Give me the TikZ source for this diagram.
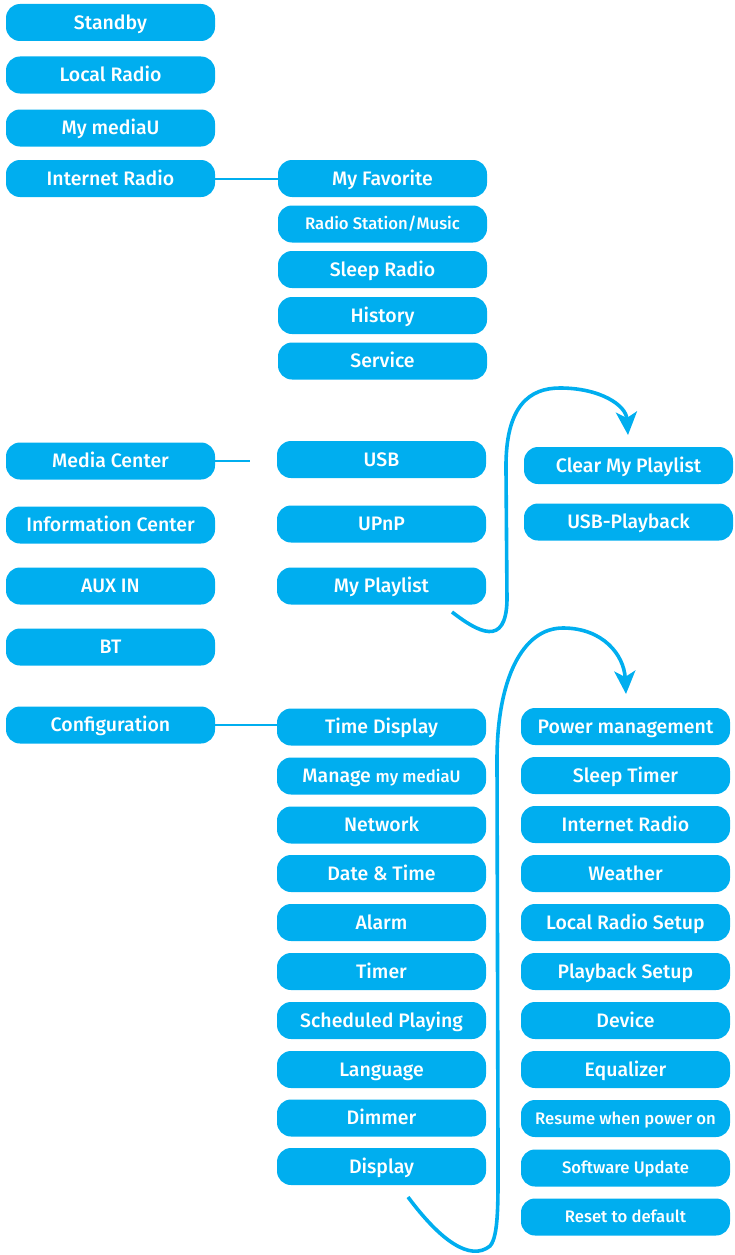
\documentclass[tikz,border=0pt]{standalone}
\usepackage[rgb]{xcolor}
\usepackage{fontspec}
\setmainfont{Fira Sans}[UprightFont=* Medium]
\usepackage{tikz}
\usetikzlibrary{arrows.meta}

\definecolor{menublue}{RGB}{0,174,239}
\newcommand{\smalltxt}{\fontsize{16.7}{16.7}\selectfont}
\tikzset{
    item/.style={fill=menublue, text=white, rounded corners=14pt, minimum width=209pt,
        minimum height=37pt, inner sep=0, text height=15pt, text depth=1.6pt,
        font=\fontsize{19.5}{19.5}\selectfont},
    small/.style={font=\smalltxt, text height=13pt, text depth=1.5pt},
    link/.style={menublue, line width=2pt},
    loop/.style={menublue, line width=3.6pt, -{Stealth[length=23pt,width=21pt,inset=6pt]}}
}

\begin{document}
\begin{tikzpicture}[x=1pt, y=-1pt]
    \useasboundingbox (0,0) rectangle (735,1255);
    % hoofdmenu
    \node[item] (standby) at (110.5,22.5) {Standby};
    \node[item] (local) at (110.5,75) {Local Radio};
    \node[item] (mediau) at (110.5,128) {My mediaU};
    \node[item] (inet) at (110.5,178.5) {Internet Radio};
    \node[item] (media) at (110.5,461) {Media Center};
    \node[item] (info) at (110.5,525) {Information Center};
    \node[item] (aux) at (110.5,586) {AUX IN};
    \node[item] (bt) at (110.5,647) {BT};
    \node[item] (config) at (110.5,725) {Configuration};
    % internet radio
    \node[item] (fav) at (382.5,178.5) {My Favorite};
    \node[item, small] (station) at (382.5,224) {Radio Station/Music};
    \node[item] (sleepradio) at (382.5,269.5) {Sleep Radio};
    \node[item] (history) at (382.5,315.5) {History};
    \node[item] (service) at (382.5,361) {Service};
    % media center
    \node[item] (usb) at (381.5,459.5) {USB};
    \node[item] (upnp) at (381.5,524) {UPnP};
    \node[item] (playlist) at (381.5,586) {My Playlist};
    \node[item] (clear) at (628.5,465.5) {Clear My Playlist};
    \node[item] (usbplay) at (628.5,522) {USB-Playback};
    % configuratie
    \node[item] (timedisp) at (381.5,727) {Time Display};
    \node[item] (manage) at (381.5,776) {Manage {\smalltxt my mediaU}};
    \node[item] (network) at (381.5,825) {Network};
    \node[item] (datetime) at (381.5,873.5) {Date \& Time};
    \node[item] (alarm) at (381.5,922.5) {Alarm};
    \node[item] (timer) at (381.5,971.5) {Timer};
    \node[item] (sched) at (381.5,1020.5) {Scheduled Playing};
    \node[item] (lang) at (381.5,1069.5) {Language};
    \node[item] (dimmer) at (381.5,1118) {Dimmer};
    \node[item] (display) at (381.5,1166.5) {Display};
    \node[item] (power) at (625.5,726.5) {Power management};
    \node[item] (sleeptimer) at (625.5,775.5) {Sleep Timer};
    \node[item] (inetsetup) at (625.5,824.5) {Internet Radio};
    \node[item] (weather) at (625.5,873.5) {Weather};
    \node[item] (localsetup) at (625.5,922.5) {Local Radio Setup};
    \node[item] (playback) at (625.5,971.5) {Playback Setup};
    \node[item] (device) at (625.5,1020.5) {Device};
    \node[item] (eq) at (625.5,1069.5) {Equalizer};
    \node[item, small] (resume) at (625.5,1118.5) {Resume when power on};
    \node[item, small] (update) at (625.5,1168) {Software Update};
    \node[item, small] (reset) at (625.5,1217) {Reset to default};
    % lijnen
    \coordinate (mediaend) at (250,461);
    \draw[link] (inet.east) -- (fav.west);
    \draw[link] (media.east) -- (mediaend);
    \draw[link] (config.east) -- (config.east -| timedisp.west);
    % bogen
    \coordinate (p1) at (452,612);
    \coordinate (q1) at (628,435);
    \draw[loop] (p1) .. controls (478,632) and (506,648) .. (507,600) -- (506,470)
        .. controls (505,405) and (530,388) .. (560,388) .. controls (600,388) and (626,405) .. (q1);
    \coordinate (p2) at (408,1197);
    \coordinate (q2) at (626,694);
    \draw[loop] (p2) .. controls (440,1240) and (470,1262) .. (490,1246)
        .. controls (499,1236) and (498,1200) .. (498,1150) -- (497,760)
        .. controls (497,680) and (522,628) .. (563,628) .. controls (603,628) and (624,655) .. (q2);
\end{tikzpicture}
\end{document}
